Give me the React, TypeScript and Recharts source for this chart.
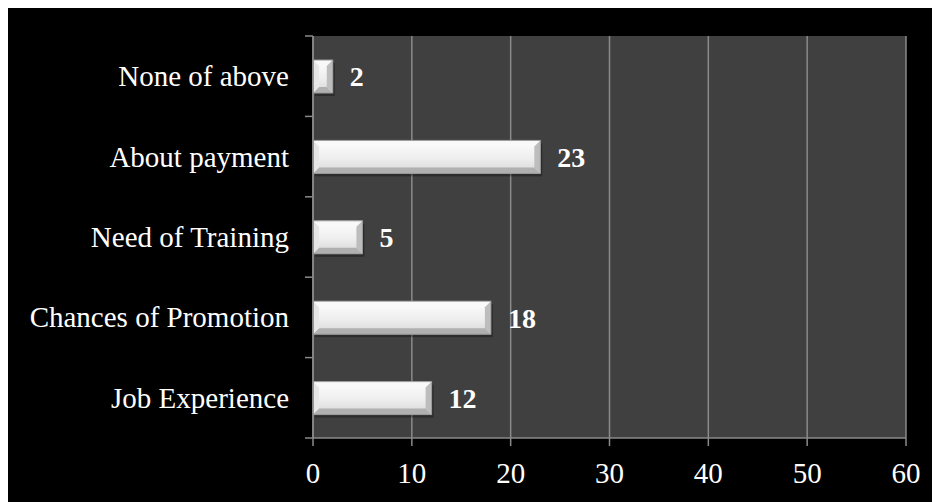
import { BarChart, Bar, XAxis, YAxis, CartesianGrid, LabelList } from 'recharts';

const categories = ['None of above', 'About payment', 'Need of Training', 'Chances of Promotion', 'Job Experience'];
const responses = [2, 23, 5, 18, 12];
const xTicks = [0, 10, 20, 30, 40, 50, 60];

const FONT = '"Liberation Serif", "Times New Roman", serif';
const AXIS_GRAY = '#8a8a8a';

// half of one category band, used to put the y tick marks between categories
const HALF_BAND = (430 - 28) / categories.length / 2;

const CategoryTick = ({ x, y, payload, index }: any) => (
  <g>
    <text
      x={x - 24}
      y={y}
      textAnchor="end"
      dominantBaseline="central"
      fill="#ffffff"
      fontSize={29}
      fontFamily={FONT}
    >
      {payload.value}
    </text>
    <line x1={x - 8} x2={x} y1={y - HALF_BAND} y2={y - HALF_BAND} stroke={AXIS_GRAY} strokeWidth={1.5} />
    {index === categories.length - 1 && (
      <line x1={x - 8} x2={x} y1={y + HALF_BAND} y2={y + HALF_BAND} stroke={AXIS_GRAY} strokeWidth={1.5} />
    )}
  </g>
);

// bevelled bar like the Excel style
const BevelBar = ({ x, y, width, height }: any) => {
  if (!width || width <= 0) return null;
  const b = Math.min(6, width / 3, height / 3);
  const r = x + width;
  const btm = y + height;
  return (
    <g>
      <rect x={x + 2} y={y + 3} width={width} height={height} fill="#000" opacity={0.3} />
      <rect x={x} y={y} width={width} height={height} fill="url(#barFace)" />
      <polygon points={`${x},${y} ${r},${y} ${r - b},${y + b} ${x + b},${y + b}`} fill="#f9f9f9" />
      <polygon points={`${x},${btm} ${r},${btm} ${r - b},${btm - b} ${x + b},${btm - b}`} fill="#b0b0b0" />
      <polygon points={`${x},${y} ${x + b},${y + b} ${x + b},${btm - b} ${x},${btm}`} fill="#e6e6e6" />
      <polygon points={`${r},${y} ${r - b},${y + b} ${r - b},${btm - b} ${r},${btm}`} fill="#bdbdbd" />
      <rect x={x} y={y} width={width} height={height} fill="none" stroke="#9a9a9a" strokeWidth={1} />
    </g>
  );
};

export default function App() {
  const data = categories.map((c, i) => ({ category: c, responses: responses[i] }));

  return (
    <div style={{ width: 932, height: 494, background: '#000000' }}>
      <BarChart
        width={932}
        height={494}
        data={data}
        layout="vertical"
        margin={{ top: 28, right: 34, bottom: 0, left: 0 }}
      >
        <defs>
          <linearGradient id="barFace" x1="0" y1="0" x2="0" y2="1">
            <stop offset="0%" stopColor="#fdfdfd" />
            <stop offset="55%" stopColor="#eeeeee" />
            <stop offset="100%" stopColor="#d6d6d6" />
          </linearGradient>
        </defs>
        <CartesianGrid horizontal={false} stroke={AXIS_GRAY} strokeWidth={1.5} fill="#404040" />
        <XAxis
          type="number"
          domain={[0, 60]}
          ticks={xTicks}
          height={64}
          stroke={AXIS_GRAY}
          strokeWidth={1.5}
          tickSize={8}
          tickMargin={16}
          tick={{ fill: '#ffffff', fontSize: 29, fontFamily: FONT }}
        />
        <YAxis
          type="category"
          dataKey="category"
          width={305}
          stroke={AXIS_GRAY}
          strokeWidth={1.5}
          tickLine={false}
          tickSize={0}
          tickMargin={0}
          tick={<CategoryTick />}
          interval={0}
        />
        <Bar dataKey="responses" barSize={33} isAnimationActive={false} shape={<BevelBar />}>
          <LabelList
            dataKey="responses"
            position="right"
            offset={17}
            fill="#ffffff"
            fontSize={28}
            fontWeight="bold"
            fontFamily={FONT}
          />
        </Bar>
      </BarChart>
    </div>
  );
}
